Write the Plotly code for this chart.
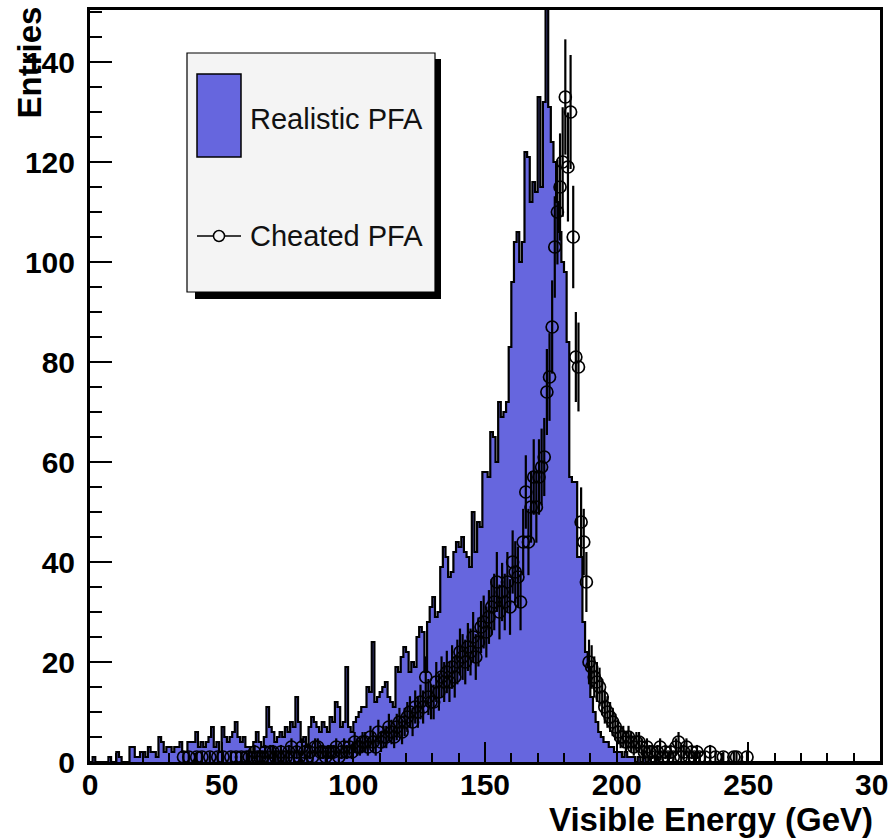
import numpy as np
import plotly.graph_objects as go

# Visible energy histograms, 1 GeV bins from 0 to 300 GeV
bin_width = 1.0
n_bins = 300

# Realistic PFA: counts per bin starting at 0 GeV
realistic_counts = [
    0, 1, 0, 0, 0, 0, 0, 1, 0, 0,
    2, 1, 0, 0, 0, 3, 3, 1, 1, 2,
    2, 1, 3, 2, 2, 1, 5, 4, 2, 3,
    3, 2, 3, 3, 4, 2, 2, 4, 4, 4,
    6, 3, 4, 3, 4, 5, 7, 3, 4, 2,
    7, 5, 4, 5, 6, 8, 5, 4, 5, 3,
    3, 2, 4, 6, 4, 3, 5, 11, 7, 6,
    4, 5, 6, 5, 7, 6, 8, 7, 13, 8,
    4, 5, 3, 7, 9, 8, 7, 6, 8, 7,
    6, 9, 8, 12, 11, 7, 8, 19, 7, 6,
    8, 9, 10, 11, 11, 15, 14, 24, 12, 13,
    14, 15, 16, 13, 12, 11, 19, 18, 21, 23,
    22, 18, 20, 19, 25, 27, 26, 18, 28, 31,
    33, 29, 30, 39, 43, 41, 37, 38, 42, 44,
    43, 45, 42, 41, 39, 50, 42, 48, 47, 58,
    58, 57, 66, 65, 60, 72, 69, 70, 72, 83,
    96, 104, 106, 100, 104, 122, 121, 112, 116, 114,
    133, 115, 132, 156, 131, 124, 120, 112, 106, 100,
    98, 84, 57, 56, 56, 41, 41, 28, 22, 19,
    13, 10, 8, 6, 5, 4, 4, 3, 3, 2,
    2, 2, 1, 2, 1, 1, 1, 0, 1, 0,
    1, 0, 1, 0, 0, 1, 0, 0, 0, 0,
]

# Cheated PFA: counts per bin starting at 30 GeV
cheated_first_bin = 30
cheated_counts = [
    0, 0, 0, 0, 0, 1, 0, 1, 0, 0,
    1, 0, 1, 0, 0, 1, 0, 0, 1, 0,
    1, 0, 0, 1, 0, 1, 0, 1, 0, 1,
    1, 0, 2, 1, 1, 1, 2, 1, 2, 2,
    1, 1, 2, 1, 1, 2, 3, 1, 2, 1,
    3, 2, 1, 2, 1, 3, 3, 2, 2, 1,
    2, 2, 2, 3, 1, 2, 3, 2, 3, 2,
    4, 3, 3, 4, 4, 3, 5, 4, 3, 6,
    4, 5, 5, 7, 6, 5, 7, 8, 6, 8,
    9, 10, 8, 11, 10, 12, 11, 17, 13, 12,
    12, 16, 14, 17, 16, 18, 16, 19, 17, 20,
    22, 21, 20, 23, 22, 25, 21, 24, 27, 28,
    26, 29, 31, 32, 36, 30, 34, 32, 36, 31,
    40, 38, 37, 32, 44, 54, 44, 51, 57, 51,
    57, 59, 61, 74, 77, 87, 103, 110, 115, 120,
    133, 119, 130, 105, 81, 79, 48, 44, 36, 20,
    19, 17, 16, 15, 13, 11, 10, 9, 8, 7,
    6, 5, 5, 4, 5, 4, 3, 4, 4, 3,
    2, 3, 2, 2, 1, 2, 3, 1, 2, 1,
    2, 1, 3, 4, 1, 2, 3, 1, 2, 1,
    2, 1, 0, 1, 0, 2, 0, 1, 0, 0,
    1, 0, 0, 0, 1, 1, 0, 0, 0, 1,
]

x_tick_values = [0, 50, 100, 150, 200, 250, 300]
x_tick_labels = ["0", "50", "100", "150", "200", "250", "300"]
y_tick_values = [0, 20, 40, 60, 80, 100, 120, 140]
y_tick_labels = ["0", "20", "40", "60", "80", "100", "120", "140"]

series_names = ["Realistic PFA", "Cheated PFA"]
x_title = "Visible Energy (GeV)"
y_title = "Entries"

FILL_BLUE = "#6666de"
FONT = "Liberation Sans, Arial, Helvetica, sans-serif"

# ---- histogram geometry -------------------------------------------------
real = np.zeros(n_bins)
real[: len(realistic_counts)] = realistic_counts
edges = np.arange(n_bins + 1) * bin_width
step_x = np.append(edges[:-1], edges[-1])
step_y = np.append(real, real[-1])

cheat = np.array(cheated_counts, dtype=float)
cheat_x = (np.arange(len(cheat)) + cheated_first_bin + 0.5) * bin_width
keep = cheat > 0
cheat_x, cheat = cheat_x[keep], cheat[keep]

fig = go.Figure()

fig.add_trace(go.Scatter(
    x=step_x, y=step_y, mode="lines", name=series_names[0],
    line=dict(shape="hv", color="black", width=2.2),
    fill="tozeroy", fillcolor=FILL_BLUE, hoverinfo="skip",
))

fig.add_trace(go.Scatter(
    x=cheat_x, y=cheat, mode="markers", name=series_names[1],
    marker=dict(symbol="circle-open", size=12, color="black",
                line=dict(width=1.7, color="black")),
    error_y=dict(type="data", array=np.sqrt(cheat), width=0,
                 thickness=2.2, color="black"),
))

# ---- plot frame geometry (pixels) --------------------------------------
W, H = 888, 840
L, R, T, B = 90, 880, 10, 762


def px(x):
    return (x - L) / (R - L)


def py(y):
    return (B - y) / (B - T)


fig.update_layout(
    width=W, height=H,
    margin=dict(l=L, r=W - R, t=T, b=H - B),
    paper_bgcolor="white", plot_bgcolor="white",
    showlegend=False,
    font=dict(family=FONT, color="black"),
)

fig.update_xaxes(
    range=[0, 300], tickmode="array",
    tickvals=x_tick_values, ticktext=x_tick_labels,
    ticks="inside", ticklen=20, tickwidth=2, tickcolor="black",
    minor=dict(dtick=10, tick0=0, ticks="inside", ticklen=9,
               tickwidth=2, tickcolor="black", showgrid=False),
    showline=True, linecolor="black", linewidth=3, mirror=True,
    showgrid=False, zeroline=False, automargin=False,
    tickfont=dict(family=FONT, size=30, weight="bold", color="black"),
    ticklabelstandoff=-6, ticklabeloverflow="allow",
)

fig.update_yaxes(
    range=[0, 150.4], tickmode="array",
    tickvals=y_tick_values, ticktext=y_tick_labels,
    ticks="inside", ticklen=22, tickwidth=2, tickcolor="black",
    minor=dict(dtick=5, tick0=0, ticks="inside", ticklen=12,
               tickwidth=2, tickcolor="black", showgrid=False),
    showline=True, linecolor="black", linewidth=3, mirror=True,
    showgrid=False, zeroline=False, automargin=False,
    tickfont=dict(family=FONT, size=30, weight="bold", color="black"),
    ticklabelstandoff=6, ticklabeloverflow="allow",
)

# ---- legend box ---------------------------------------------------------
shapes = [
    dict(type="rect", xref="paper", yref="paper",
         x0=px(195), x1=px(441), y0=py(299), y1=py(59),
         fillcolor="black", line=dict(width=0)),
    dict(type="rect", xref="paper", yref="paper",
         x0=px(187), x1=px(435), y0=py(292), y1=py(53),
         fillcolor="#f4f4f4", line=dict(color="black", width=1.2)),
    dict(type="rect", xref="paper", yref="paper",
         x0=px(197), x1=px(241), y0=py(157), y1=py(74),
         fillcolor=FILL_BLUE, line=dict(color="black", width=1.5)),
    dict(type="line", xref="paper", yref="paper",
         x0=px(197), x1=px(241), y0=py(236), y1=py(236),
         line=dict(color="black", width=1.5)),
    dict(type="circle", xref="paper", yref="paper",
         x0=px(213.5), x1=px(224.5), y0=py(241.5), y1=py(230.5),
         fillcolor="#f4f4f4", line=dict(color="black", width=1.5)),
]

annotations = [
    dict(text=series_names[0], xref="paper", yref="paper",
         x=px(248), y=py(119), xanchor="left", yanchor="middle",
         showarrow=False, font=dict(family=FONT, size=29, color="#111")),
    dict(text=series_names[1], xref="paper", yref="paper",
         x=px(248), y=py(236), xanchor="left", yanchor="middle",
         showarrow=False, font=dict(family=FONT, size=29, color="#111")),
    dict(text=x_title, xref="paper", yref="paper",
         x=px(875), y=py(840), xanchor="right", yanchor="bottom",
         showarrow=False,
         font=dict(family=FONT, size=33, weight="bold", color="black")),
    dict(text=y_title, xref="paper", yref="paper", textangle=-90,
         x=px(8), y=py(5), xanchor="left", yanchor="top",
         showarrow=False,
         font=dict(family=FONT, size=33, weight="bold", color="black")),
]

fig.update_layout(shapes=shapes, annotations=annotations)

fig.write_html("out.html")
